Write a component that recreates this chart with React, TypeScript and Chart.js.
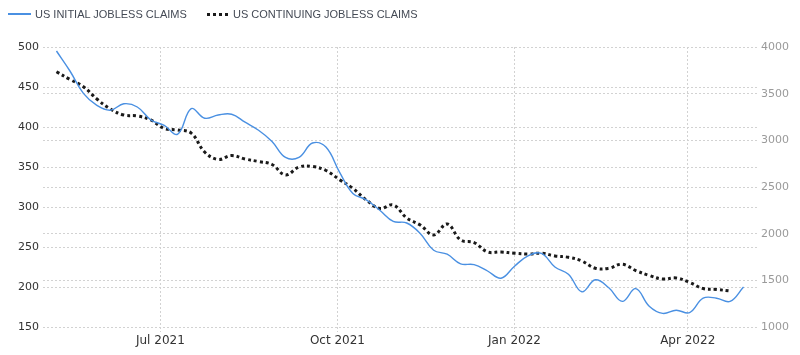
import React, { useEffect, useRef } from 'react';
import { Chart, registerables } from 'chart.js';

Chart.register(...registerables);

const weekDates = [
  '2021-05-08', '2021-05-15', '2021-05-22', '2021-05-29', '2021-06-05', '2021-06-12', '2021-06-19', '2021-06-26',
  '2021-07-03', '2021-07-10', '2021-07-17', '2021-07-24', '2021-07-31', '2021-08-07', '2021-08-14', '2021-08-21',
  '2021-08-28', '2021-09-04', '2021-09-11', '2021-09-18', '2021-09-25', '2021-10-02', '2021-10-09', '2021-10-16',
  '2021-10-23', '2021-10-30', '2021-11-06', '2021-11-13', '2021-11-20', '2021-11-27', '2021-12-04', '2021-12-11',
  '2021-12-18', '2021-12-25', '2022-01-01', '2022-01-08', '2022-01-15', '2022-01-22', '2022-01-29', '2022-02-05',
  '2022-02-12', '2022-02-19', '2022-02-26', '2022-03-05', '2022-03-12', '2022-03-19', '2022-03-26', '2022-04-02',
  '2022-04-09', '2022-04-16', '2022-04-23', '2022-04-30',
];

const initialClaims = [
  495, 470, 442, 427, 421, 429, 425, 409, 402, 391,
  423, 411, 415, 416, 406, 396, 382, 362, 362, 380,
  375, 344, 317, 309, 296, 282, 280, 267, 246, 241,
  229, 228, 220, 211, 226, 239, 242, 225, 216, 194,
  209, 199, 182, 198, 176, 167, 171, 168, 186, 186,
  182, 200,
];

const continuingClaims = [
  3735, 3652, 3575, 3443, 3336, 3271, 3261, 3218, 3127, 3111,
  3078, 2875, 2795, 2837, 2800, 2773, 2741, 2629, 2714, 2720,
  2677, 2580, 2486, 2361, 2270, 2307, 2168, 2093, 1986, 2104,
  1932, 1905, 1804, 1804, 1790, 1782, 1790, 1761, 1747, 1707,
  1629, 1629, 1672, 1605, 1552, 1514, 1525, 1477, 1412, 1402,
  1386,
];

const tickDates = ['2021-07-01', '2021-10-01', '2022-01-01', '2022-04-01'];
const tickLabels = ['Jul 2021', 'Oct 2021', 'Jan 2022', 'Apr 2022'];
const axisStartDate = '2021-05-01';
const axisEndDate = '2022-05-07';

const legendLabels = ['US INITIAL JOBLESS CLAIMS', 'US CONTINUING JOBLESS CLAIMS'];

const dayOf = (s: string) => {
  const [y, m, d] = s.split('-').map(Number);
  const [y0, m0, d0] = axisStartDate.split('-').map(Number);
  return Math.round((Date.UTC(y, m - 1, d) - Date.UTC(y0, m0 - 1, d0)) / 86400000);
};

const BLUE = '#4a90e2';
const DARK = '#1a1a1a';
const GRID = '#d2d2d2';

export default function App() {
  const ref = useRef<HTMLCanvasElement | null>(null);

  useEffect(() => {
    if (!ref.current) return;
    const tickDays = tickDates.map(dayOf);
    const chart = new Chart(ref.current, {
      type: 'line',
      data: {
        datasets: [
          {
            label: legendLabels[0],
            data: initialClaims.map((v, i) => ({ x: dayOf(weekDates[i]), y: v })),
            borderColor: BLUE,
            borderWidth: 1.4,
            pointRadius: 0,
            tension: 0.4,
            yAxisID: 'y',
          },
          {
            label: legendLabels[1],
            data: continuingClaims.map((v, i) => ({ x: dayOf(weekDates[i]), y: v })),
            borderColor: DARK,
            borderWidth: 3,
            borderDash: [3, 3],
            pointRadius: 0,
            tension: 0.4,
            yAxisID: 'y1',
          },
        ],
      },
      options: {
        animation: false,
        responsive: false,
        maintainAspectRatio: false,
        layout: { padding: { top: 47, left: 0, right: 0, bottom: 0 } },
        plugins: { legend: { display: false }, tooltip: { enabled: false } },
        scales: {
          x: {
            type: 'linear',
            min: dayOf(axisStartDate),
            max: dayOf(axisEndDate),
            afterBuildTicks: (scale: any) => {
              scale.ticks = tickDays.map((v) => ({ value: v }));
            },
            afterFit: (scale: any) => {
              scale.height = 28;
            },
            ticks: {
              autoSkip: false,
              maxRotation: 0,
              padding: 2,
              color: '#333',
              font: { family: 'DejaVu Sans', size: 12 },
              callback: (v: any) => {
                const idx = tickDays.indexOf(Number(v));
                return idx >= 0 ? tickLabels[idx] : '';
              },
            },
            grid: {
              color: GRID,
              drawTicks: true,
              tickLength: 5,
              tickColor: GRID,
              tickBorderDash: [2, 2],
            },
            border: { display: false, dash: [2, 2] },
          },
          y: {
            position: 'left',
            min: 150,
            max: 500,
            afterFit: (scale: any) => {
              scale.width = 43;
            },
            ticks: {
              stepSize: 50,
              padding: 4,
              color: '#333',
              font: { family: 'DejaVu Sans', size: 11 },
              callback: (v: any) => String(v),
            },
            grid: { color: GRID, drawTicks: false },
            border: { display: false, dash: [2, 2] },
          },
          y1: {
            position: 'right',
            min: 1000,
            max: 4000,
            afterFit: (scale: any) => {
              scale.width = 43;
            },
            ticks: {
              stepSize: 500,
              padding: 4,
              color: '#9a9a9a',
              font: { family: 'DejaVu Sans', size: 11 },
              callback: (v: any) => String(v),
            },
            grid: { color: GRID, drawTicks: false },
            border: { display: false, dash: [2, 2] },
          },
        },
      },
    } as any);
    return () => chart.destroy();
  }, []);

  const textStyle: React.CSSProperties = {
    position: 'absolute',
    top: 8,
    fontFamily: '"Liberation Sans", Arial, sans-serif',
    fontSize: 11,
    lineHeight: '12px',
    color: '#444a55',
    whiteSpace: 'nowrap',
  };

  return (
    <div style={{ position: 'fixed', left: 0, top: 0, width: 800, height: 355, background: '#fff' }}>
      <canvas ref={ref} width={800} height={355} style={{ position: 'absolute', left: 0, top: 0, width: 800, height: 355 }} />
      <div style={{ position: 'absolute', left: 8, top: 13, width: 23, height: 0, borderTop: `2px solid ${BLUE}` }} />
      <span style={{ ...textStyle, left: 35 }}>{legendLabels[0]}</span>
      <div style={{ position: 'absolute', left: 207, top: 13, width: 21, height: 0, borderTop: `3px dotted ${DARK}` }} />
      <span style={{ ...textStyle, left: 233 }}>{legendLabels[1]}</span>
    </div>
  );
}
